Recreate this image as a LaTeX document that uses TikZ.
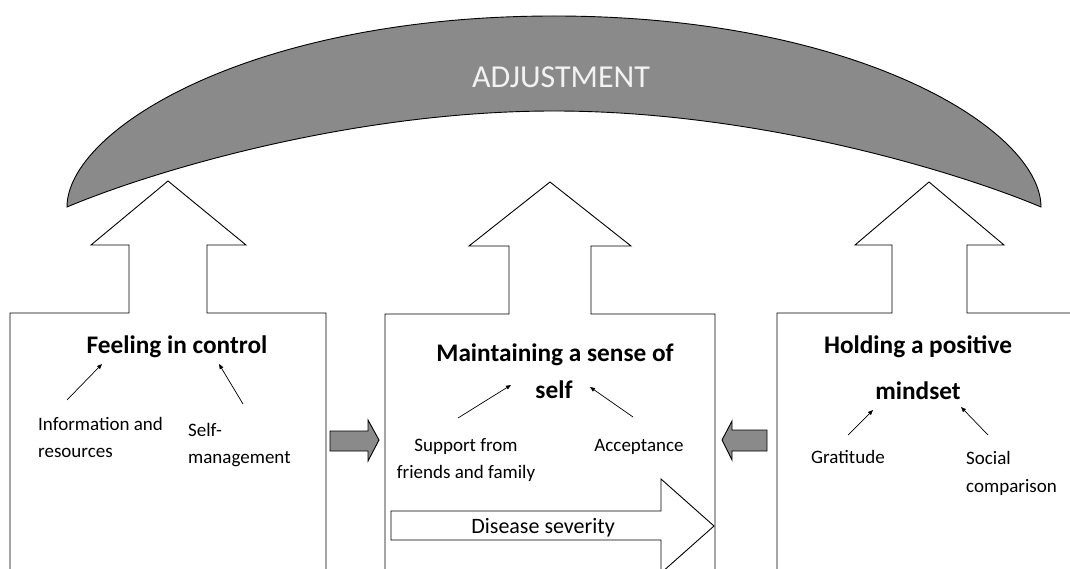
\documentclass[tikz,border=0pt]{standalone}
\usepackage{fontspec}
\setmainfont{Carlito}
\usetikzlibrary{arrows.meta}

\definecolor{bandgray}{RGB}{138,138,138}
\definecolor{lighttext}{RGB}{242,242,242}

\begin{document}
\begin{tikzpicture}[x=1pt,y=-1pt,
  outline/.style={draw=black,line width=0.9pt,line join=miter},
  heading/.style={font=\bfseries\fontsize{25.3}{29}\selectfont,anchor=base,inner sep=0pt},
  smalltext/.style={font=\fontsize{19}{23}\selectfont,inner sep=0pt},
  pointer/.style={-{Triangle[length=5pt,width=4pt]},line width=0.7pt},
  blockarrow/.style={outline,fill=bandgray}]

\useasboundingbox (0,0) rectangle (1070,569);
\clip (0,0) rectangle (1070,569);
\fill[white] (0,0) rectangle (1070,569);

% ---- crescent band on top ----
\draw[outline,fill=bandgray]
  (67,207) .. controls (67,130) and (250,16) .. (554,16)
           .. controls (858,16) and (1041,130) .. (1041,207)
           .. controls (958,172) and (758,111) .. (554,111)
           .. controls (350,111) and (150,172) .. (67,207) -- cycle;
\node[font=\fontsize{32}{38}\selectfont,text=lighttext,anchor=base,inner sep=0pt]
  (adj) at (561,88) {ADJUSTMENT};

% ---- three boxes, each with an upward arrow ----
\draw[outline,fill=white]
  (10,580) -- (10,313) -- (129,313) -- (129,245) -- (91,245) -- (168,181)
  -- (246,245) -- (207,245) -- (207,313) -- (326,313) -- (326,580);
\draw[outline,fill=white]
  (385,580) -- (385,314) -- (509,314) -- (509,246) -- (469,246) -- (550,182)
  -- (631,246) -- (591,246) -- (591,314) -- (715,314) -- (715,580);
\draw[outline,fill=white]
  (777,580) -- (777,313) -- (892,313) -- (892,245) -- (855,245) -- (929,182)
  -- (1004,245) -- (967,245) -- (967,313) -- (1080,313);

% ---- grey block arrows between the boxes ----
\draw[blockarrow]
  (330,431) -- (368,431) -- (368,420) -- (379,440) -- (368,461) -- (368,451) -- (330,451) -- cycle;
\draw[blockarrow]
  (767,430) -- (732,430) -- (732,421) -- (722,440) -- (732,460) -- (732,451) -- (767,451) -- cycle;

% ---- disease severity arrow ----
\draw[outline,fill=white]
  (391,511) -- (661,511) -- (661,479) -- (714,526) -- (661,573) -- (661,540) -- (391,540) -- cycle;
\node[smalltext,font=\fontsize{22}{26}\selectfont,anchor=base] (sev) at (543,533) {Disease severity};

% ---- left box ----
\node[heading] (ctrl) at (177,353) {Feeling in control};
\node[smalltext,anchor=base west] (info1) at (38,430) {Information and};
\node[smalltext,anchor=base west] (info2) at (38,457) {resources};
\node[smalltext,anchor=base west] (self1) at (188,436) {Self-};
\node[smalltext,anchor=base west] (self2) at (188,463) {management};
\coordinate (infoTail) at (67,400);   \coordinate (infoHead) at (102,364);
\coordinate (selfTail) at (243,404);  \coordinate (selfHead) at (219,364);
\draw[pointer] (infoTail) -- (infoHead);
\draw[pointer] (selfTail) -- (selfHead);

% ---- middle box ----
\node[heading] (sense1) at (555,361) {Maintaining a sense of};
\node[heading] (sense2) at (554,398) {self};
\node[smalltext,anchor=base] (supp1) at (466,451) {Support from};
\node[smalltext,anchor=base] (supp2) at (466,478) {friends and family};
\node[smalltext,anchor=base] (acc) at (639,451) {Acceptance};
\coordinate (suppTail) at (458,418);  \coordinate (suppHead) at (511,385);
\coordinate (accTail) at (633,417);   \coordinate (accHead) at (590,387);
\draw[pointer] (suppTail) -- (suppHead);
\draw[pointer] (accTail) -- (accHead);

% ---- right box ----
\node[heading] (pos1) at (918,353) {Holding a positive};
\node[heading] (pos2) at (918,399) {mindset};
\node[smalltext,anchor=base west] (grat) at (811,463) {Gratitude};
\node[smalltext,anchor=base west] (soc1) at (966,464) {Social};
\node[smalltext,anchor=base west] (soc2) at (966,492) {comparison};
\coordinate (gratTail) at (848,435);  \coordinate (gratHead) at (873,410);
\coordinate (socTail) at (988,435);   \coordinate (socHead) at (961,407);
\draw[pointer] (gratTail) -- (gratHead);
\draw[pointer] (socTail) -- (socHead);

\end{tikzpicture}
\end{document}
